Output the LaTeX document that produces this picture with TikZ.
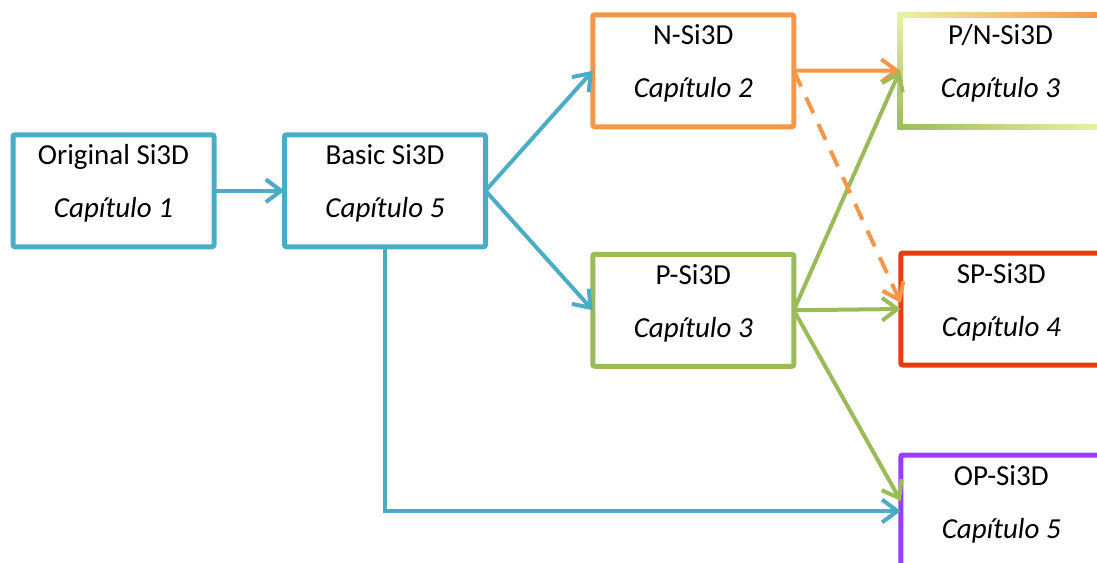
\documentclass[tikz,border=0pt]{standalone}
\usepackage{fontspec}
\setmainfont{Carlito}
\usetikzlibrary{arrows.meta}
\definecolor{cblue}{HTML}{4BACC6}
\definecolor{corange}{HTML}{F79646}
\definecolor{cgreen}{HTML}{9BBB59}
\definecolor{cred}{HTML}{E63D0C}
\definecolor{cpurple}{HTML}{9B3CFF}
\definecolor{cpale}{HTML}{EAF2A6}
\newcommand\mybox[6][draw]{%
  \node[box,#1=#4] (#2) at #3 {};
  \node[lbl] (#2-a) at ([yshift=-22.5pt]#2.north) {#5};
  \node[lbl] (#2-b) at ([yshift=-62.25pt]#2.north) {\itshape #6};
}
\begin{document}
\begin{tikzpicture}[x=0.75pt,y=-0.75pt,
  box/.style={line width=3.75pt, rounded corners=1.5pt, minimum width=150.75pt,
    minimum height=84pt, inner sep=0pt, outer sep=0pt, fill=white},
  lbl/.style={font=\fontsize{21.75}{26}\selectfont, anchor=base, inner sep=0pt},
  conn/.style={line width=3pt, -{Straight Barb[length=11.5pt,width=17pt]}},
  dashconn/.style={conn, dash pattern=on 13pt off 9pt}]
\useasboundingbox (0,0) rectangle (1097,562);
\clip (0,0) rectangle (1097,562);
% boxes
\mybox{orig}{(113.5,190.75)}{cblue}{Original Si3D}{Capítulo 1}
\mybox{basic}{(385,190.75)}{cblue}{Basic Si3D}{Capítulo 5}
\mybox{nsi}{(693.3,70.75)}{corange}{N-Si3D}{Capítulo 2}
\mybox{psi}{(693.3,310.25)}{cgreen}{P-Si3D}{Capítulo 3}
\mybox{sp}{(1001.3,309)}{cred}{SP-Si3D}{Capítulo 4}
\mybox{op}{(1001.3,511)}{cpurple}{OP-Si3D}{Capítulo 5}
% P/N box with graded border
\node[box, draw=none] (pn) at (1000.5,70.5) {};
\shade[left color=cpale, right color=corange]
  ([xshift=-1.875pt,yshift=1.875pt]pn.north west) rectangle ([xshift=1.875pt,yshift=-1.875pt]pn.north east);
\shade[left color=cgreen, middle color=cgreen!70!cpale, right color=cpale]
  ([xshift=-1.875pt,yshift=1.875pt]pn.south west) rectangle ([xshift=1.875pt,yshift=-1.875pt]pn.south east);
\shade[bottom color=cgreen, middle color=cgreen, top color=cpale]
  ([xshift=-1.875pt,yshift=1.875pt]pn.north west) rectangle ([xshift=1.875pt,yshift=-1.875pt]pn.south west);
\shade[bottom color=cpale, top color=corange]
  ([xshift=-1.875pt,yshift=1.875pt]pn.north east) rectangle ([xshift=1.875pt,yshift=-1.875pt]pn.south east);
\node[lbl] (pn-a) at ([yshift=-22.5pt]pn.north) {P/N-Si3D};
\node[lbl] (pn-b) at ([yshift=-62.25pt]pn.north) {\itshape Capítulo 3};
% connectors
\draw[conn, cblue] (orig.east) -- (basic.west);
\draw[conn, cblue] (basic.east) -- (nsi.west);
\draw[conn, cblue] (basic.east) -- (psi.west);
\draw[conn, cblue] (basic.south) |- (op.west);
\draw[conn, corange] (nsi.east) -- (pn.west);
\draw[conn, cgreen] (psi.east) -- (pn.west);
\draw[conn, cgreen] (psi.east) -- (sp.west);
\draw[conn, cgreen] (psi.east) -- ([yshift=7.5pt]op.west);
\draw[dashconn, corange] (nsi.east) -- ([yshift=4.5pt]sp.west);
\end{tikzpicture}
\end{document}
